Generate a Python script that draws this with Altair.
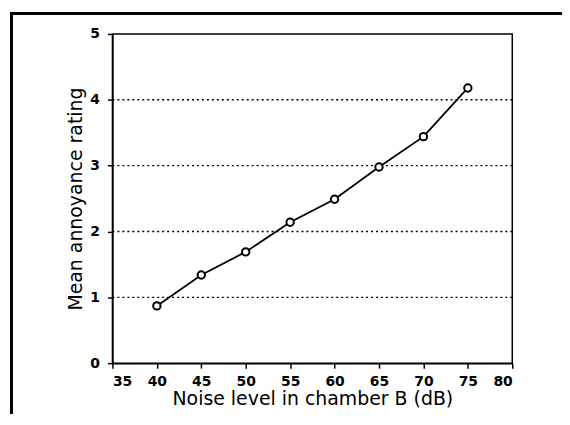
import altair as alt
import pandas as pd

# Data
noise_db = [40, 45, 50, 55, 60, 65, 70, 75]
rating = [0.87, 1.34, 1.69, 2.14, 2.49, 2.98, 3.44, 4.18]
grid_levels = [1, 2, 3, 4]
x_ticks = [35, 40, 45, 50, 55, 60, 65, 70, 75, 80]
y_ticks = [0, 1, 2, 3, 4, 5]

df = pd.DataFrame({"noise": noise_db, "rating": rating})
grid_df = pd.DataFrame({"level": grid_levels})
one = pd.DataFrame({"a": [0]})

FONT = "DejaVu Sans"
x_scale = alt.Scale(domain=[35, 80], nice=False, zero=False)
y_scale = alt.Scale(domain=[0, 5], nice=False)

x_axis = alt.Axis(
    values=x_ticks, format="d", grid=False,
    labelFont=FONT, labelFontSize=14, labelFontWeight="bold", labelColor="black",
    labelPadding=6, tickSize=5, tickColor="black", tickWidth=1.5,
    domainColor="black", domainWidth=1.5,
    title="Noise level in chamber B (dB)", titleFont=FONT, titleFontSize=19,
    titleFontWeight="normal", titleColor="black", titlePadding=2,
)
y_axis = alt.Axis(
    values=y_ticks, format="d", grid=False,
    labelFont=FONT, labelFontSize=14, labelFontWeight="bold", labelColor="black",
    labelPadding=8, tickSize=5, tickColor="black", tickWidth=1.5,
    domainColor="black", domainWidth=1.5,
    title="Mean annoyance rating", titleFont=FONT, titleFontSize=19,
    titleFontWeight="normal", titleColor="black", titlePadding=4,
)

grid = alt.Chart(grid_df).mark_rule(
    color="black", strokeDash=[2, 3], strokeWidth=1.4
).encode(y=alt.Y("level:Q", scale=y_scale, axis=y_axis, title="Mean annoyance rating"))

line = alt.Chart(df).mark_line(color="black", strokeWidth=1.8).encode(
    x=alt.X("noise:Q", scale=x_scale, axis=x_axis),
    y=alt.Y("rating:Q", scale=y_scale, axis=y_axis),
)

points = alt.Chart(df).mark_point(
    shape="circle", size=55, filled=False, fill="white", fillOpacity=1,
    stroke="black", strokeWidth=2, opacity=1
).encode(
    x=alt.X("noise:Q", scale=x_scale, axis=x_axis),
    y=alt.Y("rating:Q", scale=y_scale, axis=y_axis),
)

frame_top = alt.Chart(one).mark_rule(color="black", strokeWidth=3).encode(
    x=alt.value(-102), x2=alt.value(460), y=alt.value(-20.5)
)
frame_left = alt.Chart(one).mark_rule(color="black", strokeWidth=3).encode(
    x=alt.value(-101.5), y=alt.value(-22), y2=alt.value(385)
)

chart = alt.layer(grid, line, points, frame_top, frame_left).properties(
    width=402, height=331,
    padding={"left": 105, "top": 25, "right": 50, "bottom": 50},
    autosize=alt.AutoSizeParams(type="none"),
    background="white",
).configure_view(stroke="black", strokeWidth=1.5)

chart.save("out.html", embed_options={"renderer": "svg", "actions": False})
